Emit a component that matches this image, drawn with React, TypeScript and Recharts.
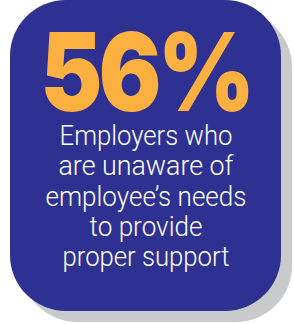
import React from "react";
import { BarChart, Bar, XAxis, YAxis } from "recharts";

// One card = one bar filling the whole plot area
const categories = ["Employers"];
const cardValues = [100];
const statLabels = ["56%"];
const captionLines = [
  "Employers who",
  "are unaware of",
  "employee\u2019s needs",
  "to provide",
  "proper support",
];
const captionWidths = [173, 175, 201, 113, 167];

const data = categories.map((name, i) => ({
  name,
  value: cardValues[i],
  stat: statLabels[i],
}));

const BLUE = "#2e3192";
const ORANGE = "#fbb040";
const SHADOW = "#c9cacc";

const roundedPath = (x: number, y: number, w: number, h: number, r: number) =>
  `M${x + r},${y} H${x + w - r} A${r},${r} 0 0 1 ${x + w},${y + r} V${y + h - r} A${r},${r} 0 0 1 ${x + w - r},${y + h} H${x + r} A${r},${r} 0 0 1 ${x},${y + h - r} V${y + r} A${r},${r} 0 0 1 ${x + r},${y} Z`;

const CardShape = (props: any) => {
  const { x, y, width, height, payload } = props;
  const r = 56;
  const cx = x + width / 2 + 1.5;
  return (
    <g>
      <path d={roundedPath(x + 11, y + 11, width, height, r)} fill={SHADOW} />
      <path d={roundedPath(x, y, width, height, r)} fill={BLUE} />
      <text
        transform={`translate(${cx - 1}, ${y + 111}) scale(0.86, 1)`}
        x={0}
        y={0}
        textAnchor="middle"
        fill={ORANGE}
        fontFamily="Inter, Lato, 'DejaVu Sans'"
        fontWeight={900}
        fontSize={108}
        letterSpacing={-4}
      >
        {payload.stat}
      </text>
      {captionLines.map((line, i) => (
        <text
          key={line}
          x={cx - 1}
          y={y + 145 + i * 30.3}
          textAnchor="middle"
          fill="#ffffff"
          fontFamily="Roboto, 'Noto Sans', sans-serif"
          fontWeight={300}
          fontSize={27}
          textLength={captionWidths[i]}
          lengthAdjust="spacingAndGlyphs"
        >
          {line}
        </text>
      ))}
    </g>
  );
};

export default function App() {
  return (
    <div style={{ position: "absolute", left: 0, top: 0, width: 294, height: 324, background: "#ffffff" }}>
      <BarChart
        width={294}
        height={324}
        data={data}
        margin={{ top: 0, right: 13, bottom: 13, left: 10 }}
        barCategoryGap={0}
      >
        <XAxis dataKey="name" hide />
        <YAxis hide domain={[0, 100]} />
        <Bar dataKey="value" shape={CardShape} isAnimationActive={false} />
      </BarChart>
    </div>
  );
}
